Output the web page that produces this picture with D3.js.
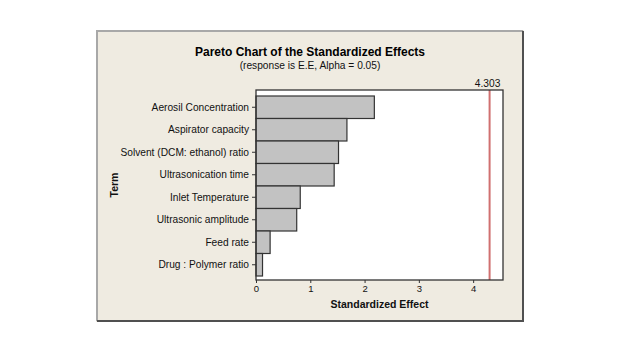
<!DOCTYPE html>
<html><head><meta charset="utf-8">
<script src="https://cdn.jsdelivr.net/npm/d3@7"></script>
<style>body{margin:0;background:#fff;}svg{display:block;}</style>
</head><body>
<script>
const terms = ["Aerosil Concentration","Aspirator capacity","Solvent (DCM: ethanol) ratio","Ultrasonication time","Inlet Temperature","Ultrasonic amplitude","Feed rate","Drug : Polymer ratio"];
const effects = [2.18, 1.675, 1.52, 1.44, 0.815, 0.75, 0.26, 0.12];
const xTicks = [0,1,2,3,4];
const critical = 4.303;
const title = "Pareto Chart of the Standardized Effects";
const subtitle = "(response is E.E, Alpha = 0.05)";
const xLabel = "Standardized Effect";
const yLabel = "Term";

const W=628,H=355;
const font="'Liberation Sans', Arial, sans-serif";
const svg=d3.select("body").append("svg").attr("width",W).attr("height",H);
// frame
svg.append("rect").attr("x",96).attr("y",30).attr("width",428).attr("height",292).attr("fill","#efebe1");
svg.append("path").attr("d","M97,321 V31 H523").attr("fill","none").attr("stroke","#a8a8a8").attr("stroke-width",2);
svg.append("path").attr("d","M97,321 H523 V31").attr("fill","none").attr("stroke","#505050").attr("stroke-width",2);

const m={l:256,r:503,t:90,b:280};
const x=d3.scaleLinear().domain([0,4.55]).range([m.l,m.r]);
const y=d3.scaleBand().domain(terms).range([96,276]).padding(0);

svg.append("rect").attr("x",m.l).attr("y",m.t).attr("width",m.r-m.l).attr("height",m.b-m.t).attr("fill","#fff");

svg.append("g").selectAll("rect").data(terms).join("rect")
 .attr("x",x(0)).attr("y",d=>y(d)).attr("width",(d,i)=>x(effects[i])-x(0)).attr("height",y.bandwidth())
 .attr("fill","#c2c2c2").attr("stroke","#333").attr("stroke-width",1.2);

svg.append("line").attr("x1",x(critical)).attr("x2",x(critical)).attr("y1",m.t).attr("y2",m.b)
 .attr("stroke","#d07070").attr("stroke-width",2);

svg.append("rect").attr("x",m.l).attr("y",m.t).attr("width",m.r-m.l).attr("height",m.b-m.t).attr("fill","none").attr("stroke","#333").attr("stroke-width",1.3);

const xa=svg.append("g").attr("transform",`translate(0,${m.b})`).call(d3.axisBottom(x).tickValues(xTicks).tickSize(3).tickPadding(2).tickFormat(d3.format("d")));
xa.select(".domain").remove();
xa.selectAll("text").attr("font-family",font).attr("font-size",9.5).attr("fill","#111");
xa.selectAll("line").attr("stroke","#333");

const ya=svg.append("g").attr("transform",`translate(${m.l},0)`).call(d3.axisLeft(y).tickSize(4));
ya.select(".domain").remove();
ya.selectAll("text").attr("font-family",font).attr("font-size",10.2).attr("fill","#111");
ya.selectAll("line").attr("stroke","#333");

svg.append("text").attr("x",310).attr("y",56).attr("text-anchor","middle").attr("font-family",font).attr("font-size",12).attr("font-weight","bold").attr("fill","#000").text(title);
svg.append("text").attr("x",310).attr("y",69).attr("text-anchor","middle").attr("font-family",font).attr("font-size",10.2).attr("fill","#111").text(subtitle);
svg.append("text").attr("x",x(critical)-2).attr("y",87).attr("text-anchor","middle").attr("font-family",font).attr("font-size",10.2).attr("fill","#111").text(critical);
svg.append("text").attr("x",(m.l+m.r)/2).attr("y",307.5).attr("text-anchor","middle").attr("font-family",font).attr("font-size",10.5).attr("font-weight","bold").attr("fill","#111").text(xLabel);
svg.append("text").attr("transform",`translate(118,${(m.t+m.b)/2}) rotate(-90)`).attr("text-anchor","middle").attr("font-family",font).attr("font-size",10.5).attr("font-weight","bold").attr("fill","#111").text(yLabel);
</script>
</body></html>
